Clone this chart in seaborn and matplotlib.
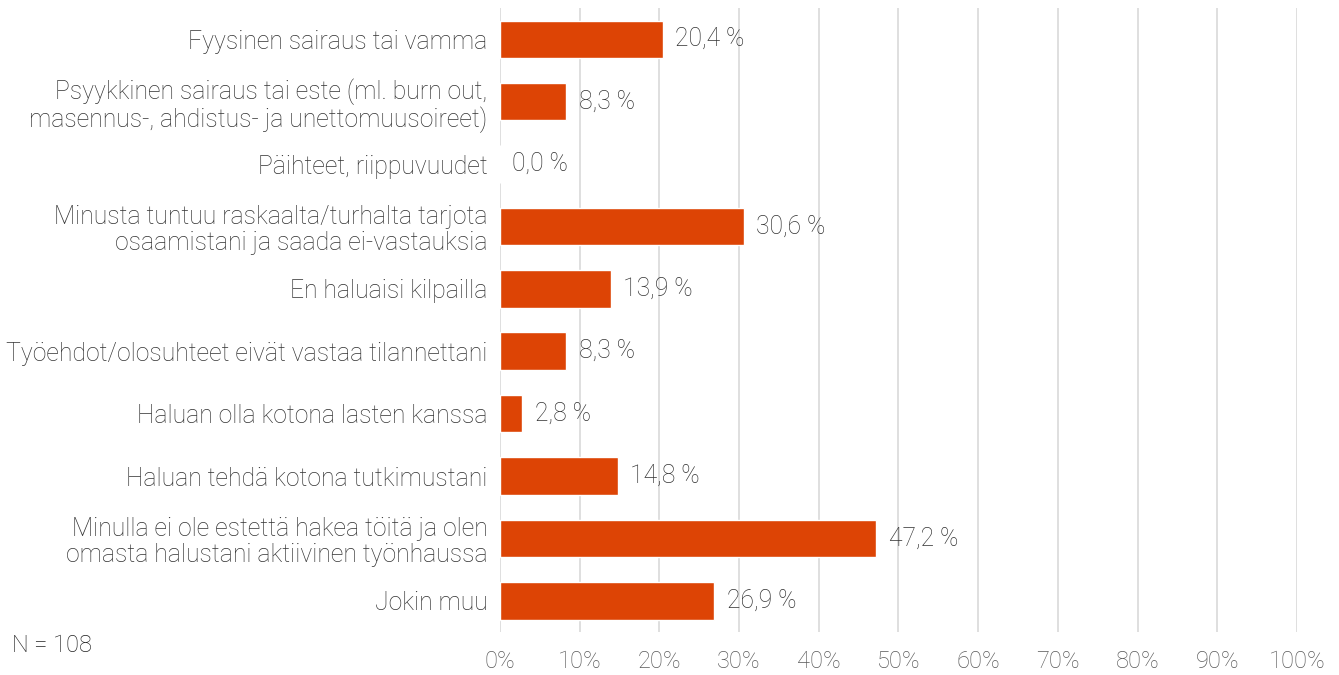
import numpy as np
import pandas as pd
import matplotlib.pyplot as plt
import seaborn as sns

categories = [
    "Fyysinen sairaus tai vamma",
    "Psyykkinen sairaus tai este (ml. burn out,\nmasennus-, ahdistus- ja unettomuusoireet)",
    "Päihteet, riippuvuudet",
    "Minusta tuntuu raskaalta/turhalta tarjota\nosaamistani ja saada ei-vastauksia",
    "En haluaisi kilpailla",
    "Työehdot/olosuhteet eivät vastaa tilannettani",
    "Haluan olla kotona lasten kanssa",
    "Haluan tehdä kotona tutkimustani",
    "Minulla ei ole estettä hakea töitä ja olen\nomasta halustani aktiivinen työnhaussa",
    "Jokin muu",
]
values = [20.4, 8.3, 0.0, 30.6, 13.9, 8.3, 2.8, 14.8, 47.2, 26.9]
xticks = list(range(0, 101, 10))

df = pd.DataFrame({"cat": categories, "val": values})

sns.set_style("white")
plt.rcParams["font.family"] = ["Roboto", "DejaVu Sans"]
text_col = "#333333"

fig = plt.figure(figsize=(13.39, 6.75), dpi=100)
ax = fig.add_axes([0.3734, 0.0637, 0.5952, 0.9244])

sns.barplot(data=df, x="val", y="cat", color="#DD4405", width=0.6,
            saturation=1, ax=ax, zorder=3)

ax.set_xlim(0, 100)
ax.set_xticks(xticks)
ax.set_xticklabels([f"{t}%" for t in xticks], fontsize=17, color="#595959",
                   fontweight="light")
ax.tick_params(axis="x", length=0, pad=13)
ax.tick_params(axis="y", length=0, pad=9)
for lab in ax.get_yticklabels():
    lab.set_fontsize(17.8)
    lab.set_color(text_col)
    lab.set_fontweight("light")
    lab.set_linespacing(1.1)
ax.set_xlabel("")
ax.set_ylabel("")
ax.grid(axis="x", color="#D9D9D9", linewidth=1.2, zorder=0)
for s in ax.spines.values():
    s.set_visible(False)

for i, v in enumerate(values):
    ax.annotate(f"{v:.1f} %".replace(".", ","), (v, i), xytext=(9, 0),
                textcoords="offset points", va="center", ha="left",
                fontsize=17.8, color=text_col, fontweight="light")

fig.text(12 / 1339, 1 - 646 / 675, "N = 108", fontsize=17, color="#222222",
         fontweight="light", va="center", ha="left")

fig.savefig("out.png", dpi=100)
